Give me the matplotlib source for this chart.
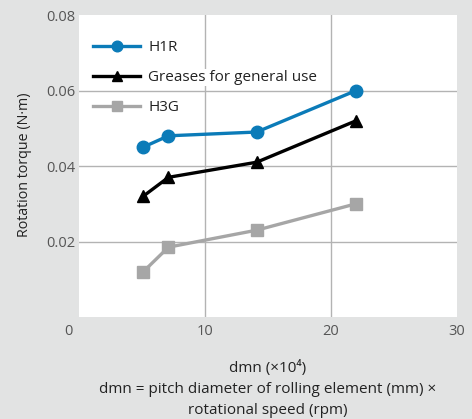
import matplotlib
matplotlib.use("Agg")
import matplotlib.pyplot as plt
from matplotlib.transforms import ScaledTranslation

plt.rcParams['font.family'] = ['Open Sans', 'DejaVu Sans']

dmn = [5.1, 7.1, 14.1, 22.0]
h1r = [0.045, 0.048, 0.049, 0.060]
general = [0.032, 0.037, 0.041, 0.052]
h3g = [0.012, 0.0185, 0.023, 0.030]
series_names = ["H1R", "Greases for general use", "H3G"]
x_ticks = [0, 10, 20, 30]
y_ticks = [0.02, 0.04, 0.06, 0.08]
y_tick_labels = ["0.02", "0.04", "0.06", "0.08"]

bg = "#e2e3e3"
fig = plt.figure(figsize=(4.72, 4.19), dpi=100, facecolor=bg)
ax = fig.add_axes([79/472, 1-317/419, 378/472, 302/419])
ax.set_facecolor("white")
ax.set_xlim(0, 30)
ax.set_ylim(0, 0.08)
for s in ax.spines.values():
    s.set_visible(False)

for x in [10, 20]:
    ax.axvline(x, color="#b3b3b3", lw=1.0, zorder=1)
for y in [0.02, 0.04, 0.06]:
    ax.axhline(y, color="#b3b3b3", lw=1.0, zorder=1)

ax.plot(dmn, h1r, color="#0b7bb8", lw=2.4, marker="o", ms=9, zorder=3, label=series_names[0])
ax.plot(dmn, general, color="black", lw=2.4, marker="^", ms=9, zorder=3, label=series_names[1])
ax.plot(dmn, h3g, color="#a6a6a6", lw=2.4, marker="s", ms=8, zorder=3, label=series_names[2])

ax.set_xticks(x_ticks)
ax.set_xticklabels([str(v) for v in x_ticks])
ax.set_yticks(y_ticks)
ax.set_yticklabels(y_tick_labels)
ax.tick_params(length=0, labelsize=10.5, colors="#555555")
ax.tick_params(axis="y", pad=2.5)
ax.tick_params(axis="x", pad=5)
lab0 = ax.get_xticklabels()[0]
lab0.set_transform(lab0.get_transform() + ScaledTranslation(-11/100, 0, fig.dpi_scale_trans))

leg = ax.legend(loc="upper left", frameon=False, fontsize=11, handlelength=3.1,
                borderaxespad=0, borderpad=0, bbox_to_anchor=((93-79)/378, (317-40)/302),
                labelspacing=0.98, handletextpad=0.5, markerscale=0.85)
leg.set_zorder(5)
for t in leg.get_texts():
    t.set_color("#222222")
    t.set_bbox(dict(facecolor="white", edgecolor="none", pad=1))

fig.text(25/472, 1-165/419, "Rotation torque (N\u00b7m)", rotation=90, ha="center", va="center",
         fontsize=10.3, color="#222222")
xc = (79 + 457) / 2 / 472
fig.text(xc, 1-368/419, "dmn (\u00d710\u2074)", ha="center", va="center", fontsize=11, color="#222222")
fig.text(xc, 1-389/419, "dmn = pitch diameter of rolling element (mm) \u00d7", ha="center", va="center",
         fontsize=11, color="#222222")
fig.text(xc, 1-410/419, "rotational speed (rpm)", ha="center", va="center", fontsize=11, color="#222222")

fig.savefig("out.png", dpi=100, facecolor=bg)
